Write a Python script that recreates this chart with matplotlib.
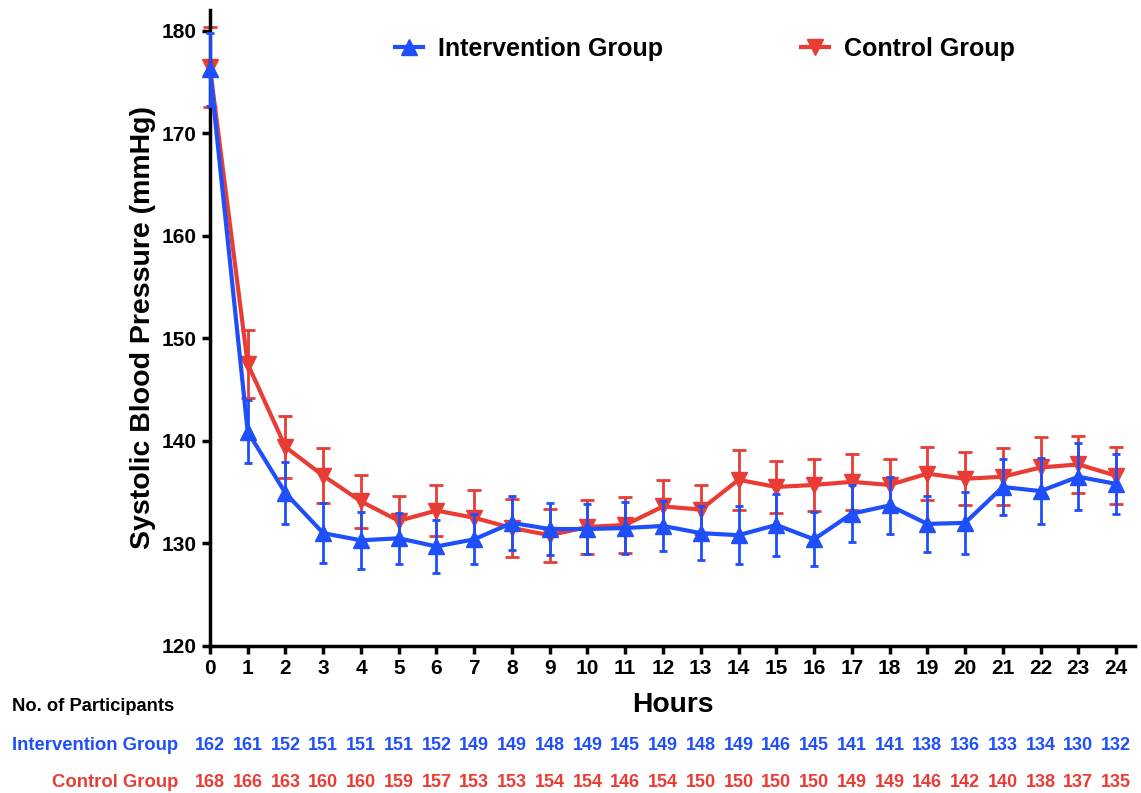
import matplotlib
matplotlib.use("Agg")
import matplotlib.pyplot as plt
from matplotlib.transforms import blended_transform_factory
from matplotlib.lines import Line2D
import numpy as np

hours = list(range(25))
interv_mean = [176.2, 140.9, 134.9, 131.0, 130.3, 130.5, 129.7, 130.4, 132.0, 131.4, 131.4, 131.5, 131.7,
               131.0, 130.8, 131.8, 130.4, 132.9, 133.7, 131.9, 132.0, 135.5, 135.1, 136.5, 135.8]
interv_err = [3.6, 3.1, 3.0, 2.95, 2.75, 2.5, 2.55, 2.45, 2.6, 2.5, 2.4, 2.5, 2.45,
              2.6, 2.8, 3.0, 2.65, 2.8, 2.8, 2.75, 3.0, 2.7, 3.25, 3.25, 2.95]
ctrl_mean = [176.4, 147.5, 139.4, 136.6, 134.1, 132.2, 133.2, 132.5, 131.5, 130.8, 131.6, 131.8, 133.6,
             133.3, 136.2, 135.5, 135.7, 136.0, 135.7, 136.8, 136.3, 136.5, 137.4, 137.7, 136.6]
ctrl_err = [3.9, 3.3, 3.0, 2.7, 2.6, 2.4, 2.5, 2.7, 2.85, 2.6, 2.6, 2.75, 2.6,
            2.4, 2.9, 2.55, 2.55, 2.7, 2.55, 2.6, 2.6, 2.8, 2.95, 2.75, 2.8]
interv_n = [162, 161, 152, 151, 151, 151, 152, 149, 149, 148, 149, 145, 149,
            148, 149, 146, 145, 141, 141, 138, 136, 133, 134, 130, 132]
ctrl_n = [168, 166, 163, 160, 160, 159, 157, 153, 153, 154, 154, 146, 154,
          150, 150, 150, 150, 149, 149, 146, 142, 140, 138, 137, 135]
y_ticks = [120, 130, 140, 150, 160, 170, 180]

BLUE = '#1F4FFA'
RED = '#E83C35'

plt.rcParams['font.family'] = ['Liberation Sans', 'DejaVu Sans']
plt.rcParams['font.weight'] = 'bold'

fig = plt.figure(figsize=(11.41, 7.93), dpi=100)
ax = fig.add_axes([0.184, 0.1854, 0.8107, 0.802])

for mean, err, col, mk, cs, z in [(ctrl_mean, ctrl_err, RED, 'v', 4.7, 2),
                                  (interv_mean, interv_err, BLUE, '^', 3.0, 3)]:
    cont = ax.errorbar(hours, mean, yerr=err, color=col, lw=3, marker=mk, ms=11,
                       elinewidth=2, capsize=cs, capthick=2, zorder=z)
    for art in cont.get_children():
        art.set_clip_on(False)

ax.set_xlim(0, 24.5)
ax.set_ylim(120, 182)
ax.set_xticks(hours)
ax.set_yticks(y_ticks)
ax.tick_params(axis='both', labelsize=15, width=2.5, length=6, direction='out')
for lab in ax.get_xticklabels() + ax.get_yticklabels():
    lab.set_fontweight('bold')
for s in ['top', 'right']:
    ax.spines[s].set_visible(False)
for s in ['left', 'bottom']:
    ax.spines[s].set_linewidth(2.5)

ax.set_ylabel('Systolic Blood Pressure (mmHg)', fontsize=20.5, fontweight='bold', labelpad=4)

handles = [Line2D([], [], color=BLUE, lw=3, marker='^', ms=11),
           Line2D([], [], color=RED, lw=3, marker='v', ms=11)]
leg = fig.legend(handles, ['Intervention Group', 'Control Group'], ncol=2, frameon=False,
                 loc='center left', bbox_to_anchor=(395 / 1141, 1 - 49 / 793), fontsize=18,
                 handlelength=1.1, columnspacing=5.5, handletextpad=0.64,
                 borderpad=0, borderaxespad=0)
for t in leg.get_texts():
    t.set_fontweight('bold')

trans = blended_transform_factory(ax.transData, fig.transFigure)
for x, a, b in zip(hours, interv_n, ctrl_n):
    ax.text(x, 0.0595, str(a), transform=trans, ha='center', va='center', color=BLUE,
            fontsize=13, fontweight='bold')
    ax.text(x, 0.0135, str(b), transform=trans, ha='center', va='center', color=RED,
            fontsize=13, fontweight='bold')

fig.text(178 / 1141, 0.0595, 'Intervention Group', ha='right', va='center', color=BLUE,
         fontsize=13.3, fontweight='bold')
fig.text(178 / 1141, 0.0135, 'Control Group', ha='right', va='center', color=RED,
         fontsize=13.3, fontweight='bold')
fig.text(12 / 1141, 0.1085, 'No. of Participants', ha='left', va='center', color='black',
         fontsize=13.2, fontweight='bold')
fig.text(673 / 1141, 0.111, 'Hours', ha='center', va='center', color='black',
         fontsize=20.3, fontweight='bold')

fig.savefig('out.png', dpi=100)
